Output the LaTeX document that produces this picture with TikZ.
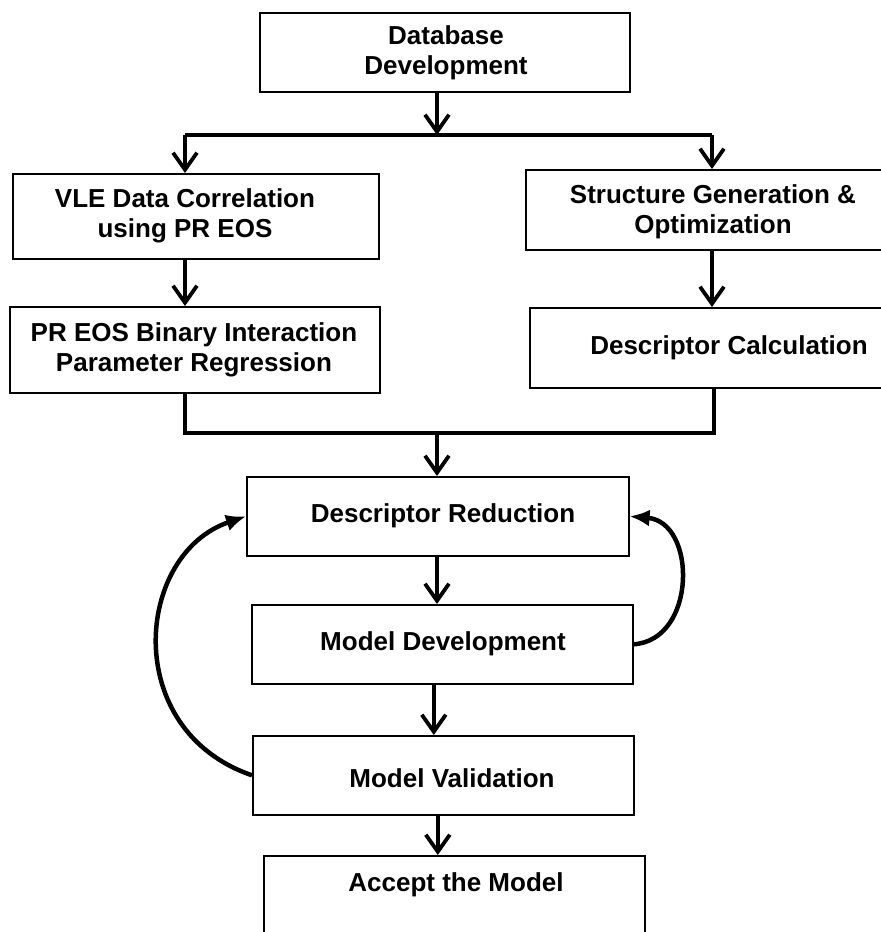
\documentclass[tikz,border=0pt]{standalone}
\usepackage{fontspec}
\setmainfont{Liberation Sans}
\usetikzlibrary{arrows.meta}
\begin{document}
\begin{tikzpicture}[x=1pt,y=-1pt,
  box/.style={draw, line width=1.6pt, inner sep=0pt, anchor=north west},
  lbl/.style={font=\bfseries\fontsize{26}{30}\selectfont, align=center, inner sep=0pt},
  flow/.style={line width=3.8pt, -{Straight Barb[length=17pt,width=24pt]}},
  link/.style={line width=3.8pt, line join=miter},
  loop/.style={line width=4.5pt, -{Latex[length=20pt,width=17pt]}}]
\useasboundingbox (0,0) rectangle (881,932);
\clip (0,0) rectangle (881,932);

% process boxes
\node[box, minimum width=370pt, minimum height=79pt] (db)  at (259,12)  {};
\node[box, minimum width=366pt, minimum height=85pt] (vle) at (12,173)  {};
\node[box, minimum width=370pt, minimum height=86pt] (pr)  at (9,306)   {};
\node[box, minimum width=400pt, minimum height=80pt] (sg)  at (525,169) {};
\node[box, minimum width=420pt, minimum height=80pt] (dc)  at (529,307) {};
\node[box, minimum width=382pt, minimum height=79pt] (dr)  at (246,476) {};
\node[box, minimum width=381pt, minimum height=79pt] (md)  at (251,604) {};
\node[box, minimum width=381pt, minimum height=79pt] (mv)  at (252,735) {};
\node[box, minimum width=381pt, minimum height=110pt] (acc) at (263,855) {};

% box labels
\node[lbl] (dbt)  at (446,53)  {Database\\Development};
\node[lbl] (vlet) at (185,216) {VLE Data Correlation\\using PR EOS};
\node[lbl] (prt)  at (194,350) {PR EOS Binary Interaction\\Parameter Regression};
\node[lbl] (sgt)  at (713,212) {Structure Generation \&\\Optimization};
\node[lbl] (dct)  at (729,348) {Descriptor Calculation};
\node[lbl] (drt)  at (443,516) {Descriptor Reduction};
\node[lbl] (mdt)  at (443,644) {Model Development};
\node[lbl] (mvt)  at (452,778) {Model Validation};
\node[lbl] (acct) at (456,885) {Accept the Model};

% branch points
\coordinate (split) at (437,135);
\coordinate (sl) at (185,135);
\coordinate (sr) at (712,135);
\coordinate (jl) at (185,433);
\coordinate (jr) at (714,433);
\coordinate (jm) at (437,433);

% top split
\draw[flow] (split |- db.south) -- (split);
\draw[link] (sl) -- (sr);
\draw[flow] (sl) -- (sl |- vle.north);
\draw[flow] (sr) -- (sr |- sg.north);

% two parallel branches
\draw[flow] (sl |- vle.south) -- (sl |- pr.north);
\draw[flow] (sr |- sg.south) -- (sr |- dc.north);

% merge
\draw[link] (jl |- pr.south) -- (jl) -- (jr) -- (jr |- dc.south);
\draw[flow] (jm) -- (jm |- dr.north);

% model chain
\draw[flow] (jm |- dr.south) -- (jm |- md.north);
\draw[flow] ([xshift=-8.5pt]md.south) -- ([xshift=-8.5pt]md.south |- mv.north);
\draw[flow] ([xshift=-5.5pt]mv.south) -- ([xshift=-5.5pt]mv.south |- acc.north);

% feedback loops
\draw[loop] (mv.west) .. controls (120,730) and (135,554) .. (dr.west);
\draw[loop] (md.east) .. controls (697,640) and (697,522) .. (dr.east);
\end{tikzpicture}
\end{document}
